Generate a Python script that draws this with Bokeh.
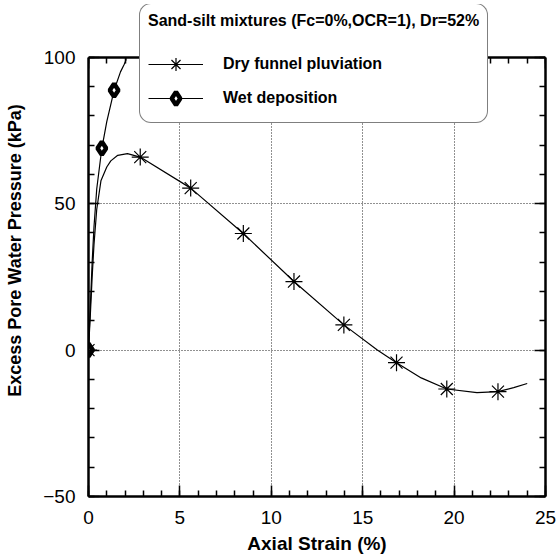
from bokeh.plotting import figure
from bokeh.models import (Range1d, FixedTicker, LinearAxis, Legend, LegendItem)
from bokeh.embed import file_html
from bokeh.resources import INLINE

# ---- data ----
dry_marker_x = [0.0, 2.83, 5.59, 8.47, 11.24, 13.97, 16.85, 19.6, 22.4]
dry_marker_y = [0.0, 65.9, 55.3, 39.8, 23.4, 8.6, -4.3, -13.3, -14.2]
dry_curve_x = [0.0, 0.1, 0.2, 0.3, 0.45, 0.68, 1.0, 1.22, 1.6, 2.13, 2.83, 5.59, 8.47,
               11.24, 13.97, 15.8, 16.85, 18.2, 19.6, 21.25, 22.4, 23.26, 24.0]
dry_curve_y = [0.0, 12.0, 25.0, 36.0, 48.0, 57.8, 62.5, 64.6, 66.5, 67.1, 65.9, 55.3, 39.8,
               23.4, 8.6, 0.0, -4.3, -9.5, -13.3, -14.5, -14.2, -12.8, -11.4]

wet_marker_x = [0.0, 0.73, 1.4]
wet_marker_y = [0.0, 68.9, 88.7]
wet_curve_x = [0.0, 0.1, 0.2, 0.3, 0.45, 0.73, 1.0, 1.4, 1.75, 1.95, 2.05, 2.05]
wet_curve_y = [0.0, 15.0, 30.0, 42.0, 55.0, 68.9, 78.0, 88.7, 95.0, 97.5, 99.0, 100.0]

x_major = [0, 5, 10, 15, 20, 25]
x_minor = list(range(0, 26))
y_major = [-50, 0, 50, 100]
y_minor = list(range(-50, 101, 10))
x_grid = [5, 10, 15, 20]
y_grid = [0, 50]

FONT = "Liberation Sans"
Y_TOP = 118.0  # extra room above 100 so the legend box can sit above the axes frame

p = figure(width=557, height=558, output_backend="svg", toolbar_location=None,
           x_range=Range1d(0, 25), y_range=Range1d(-50, Y_TOP),
           min_border_left=88, min_border_right=12, min_border_top=4, min_border_bottom=62,
           background_fill_color="white", border_fill_color="white")
p.outline_line_color = None

xt = FixedTicker(ticks=x_major, minor_ticks=x_minor)
yt = FixedTicker(ticks=y_major, minor_ticks=y_minor)

p.xaxis.ticker = xt
p.yaxis.ticker = yt
p.xgrid.ticker = FixedTicker(ticks=x_grid)
p.ygrid.ticker = FixedTicker(ticks=y_grid)
for g in (p.xgrid, p.ygrid):
    g.grid_line_color = "#222222"
    g.grid_line_dash = "1 2"
    g.grid_line_width = 1

def style_axis(ax, show_labels=True):
    ax.axis_line_width = 2.5
    ax.axis_line_color = "black"
    ax.major_tick_in = 11
    ax.major_tick_out = 0
    ax.minor_tick_in = 6
    ax.minor_tick_out = 0
    ax.major_tick_line_width = 1.5
    ax.minor_tick_line_width = 1.5
    ax.major_tick_line_color = "black"
    ax.minor_tick_line_color = "black"
    if show_labels:
        ax.major_label_text_font = FONT
        ax.major_label_text_font_size = "19px"
        ax.major_label_text_color = "black"
        ax.axis_label_text_font = FONT
        ax.axis_label_text_font_size = "18px"
        ax.axis_label_text_font_style = "bold"
        ax.axis_label_text_color = "black"
    else:
        ax.major_label_text_font_size = "0px"
        ax.major_label_standoff = 0

style_axis(p.xaxis[0])
style_axis(p.yaxis[0])
p.yaxis.bounds = (-50, 100)
p.xaxis.axis_label = "Axial Strain (%)"
p.yaxis.axis_label = "Excess Pore Water Pressure (kPa)"
p.xaxis[0].axis_label_text_font_size = "19px"
p.xaxis.major_label_standoff = 14
p.xaxis.axis_label_standoff = 6
p.yaxis.major_label_standoff = 13
p.yaxis.axis_label_standoff = 15

top_ax = LinearAxis(ticker=xt, fixed_location=100)
style_axis(top_ax, show_labels=False)
p.add_layout(top_ax, "above")
right_ax = LinearAxis(ticker=yt, bounds=(-50, 100))
style_axis(right_ax, show_labels=False)
p.add_layout(right_ax, "right")

# ---- series ----
dry_line = p.line(dry_curve_x, dry_curve_y, line_color="black", line_width=1.2)
dry_pts = p.scatter(dry_marker_x, dry_marker_y, marker="asterisk", size=17,
                    line_color="black", line_width=1.2)
wet_line = p.line(wet_curve_x, wet_curve_y, line_color="black", line_width=1.2)
wet_pts = p.scatter(wet_marker_x, wet_marker_y, marker="diamond", size=13,
                    fill_color="white", line_color="black", line_width=4.5)

legend = Legend(items=[LegendItem(label="Dry funnel pluviation", renderers=[dry_line, dry_pts]),
                       LegendItem(label="Wet deposition", renderers=[wet_line, wet_pts])],
                location=(51, 373), title="Sand-silt mixtures (Fc=0%,OCR=1), Dr=52%")
legend.title_text_font = FONT
legend.title_text_font_size = "16px"
legend.title_text_font_style = "bold"
legend.title_text_color = "black"
legend.title_standoff = 18
legend.label_text_font = FONT
legend.label_text_font_size = "16px"
legend.label_text_font_style = "bold"
legend.label_text_color = "black"
legend.glyph_width = 55
legend.glyph_height = 32
legend.label_standoff = 20
legend.spacing = 2
legend.padding = 8
legend.margin = 0
legend.border_line_color = "black"
legend.border_line_width = 1.5
legend.background_fill_color = "white"
legend.background_fill_alpha = 1
legend.border_radius = 12
p.add_layout(legend, "center")

open("out.html", "w").write(file_html(p, INLINE))
